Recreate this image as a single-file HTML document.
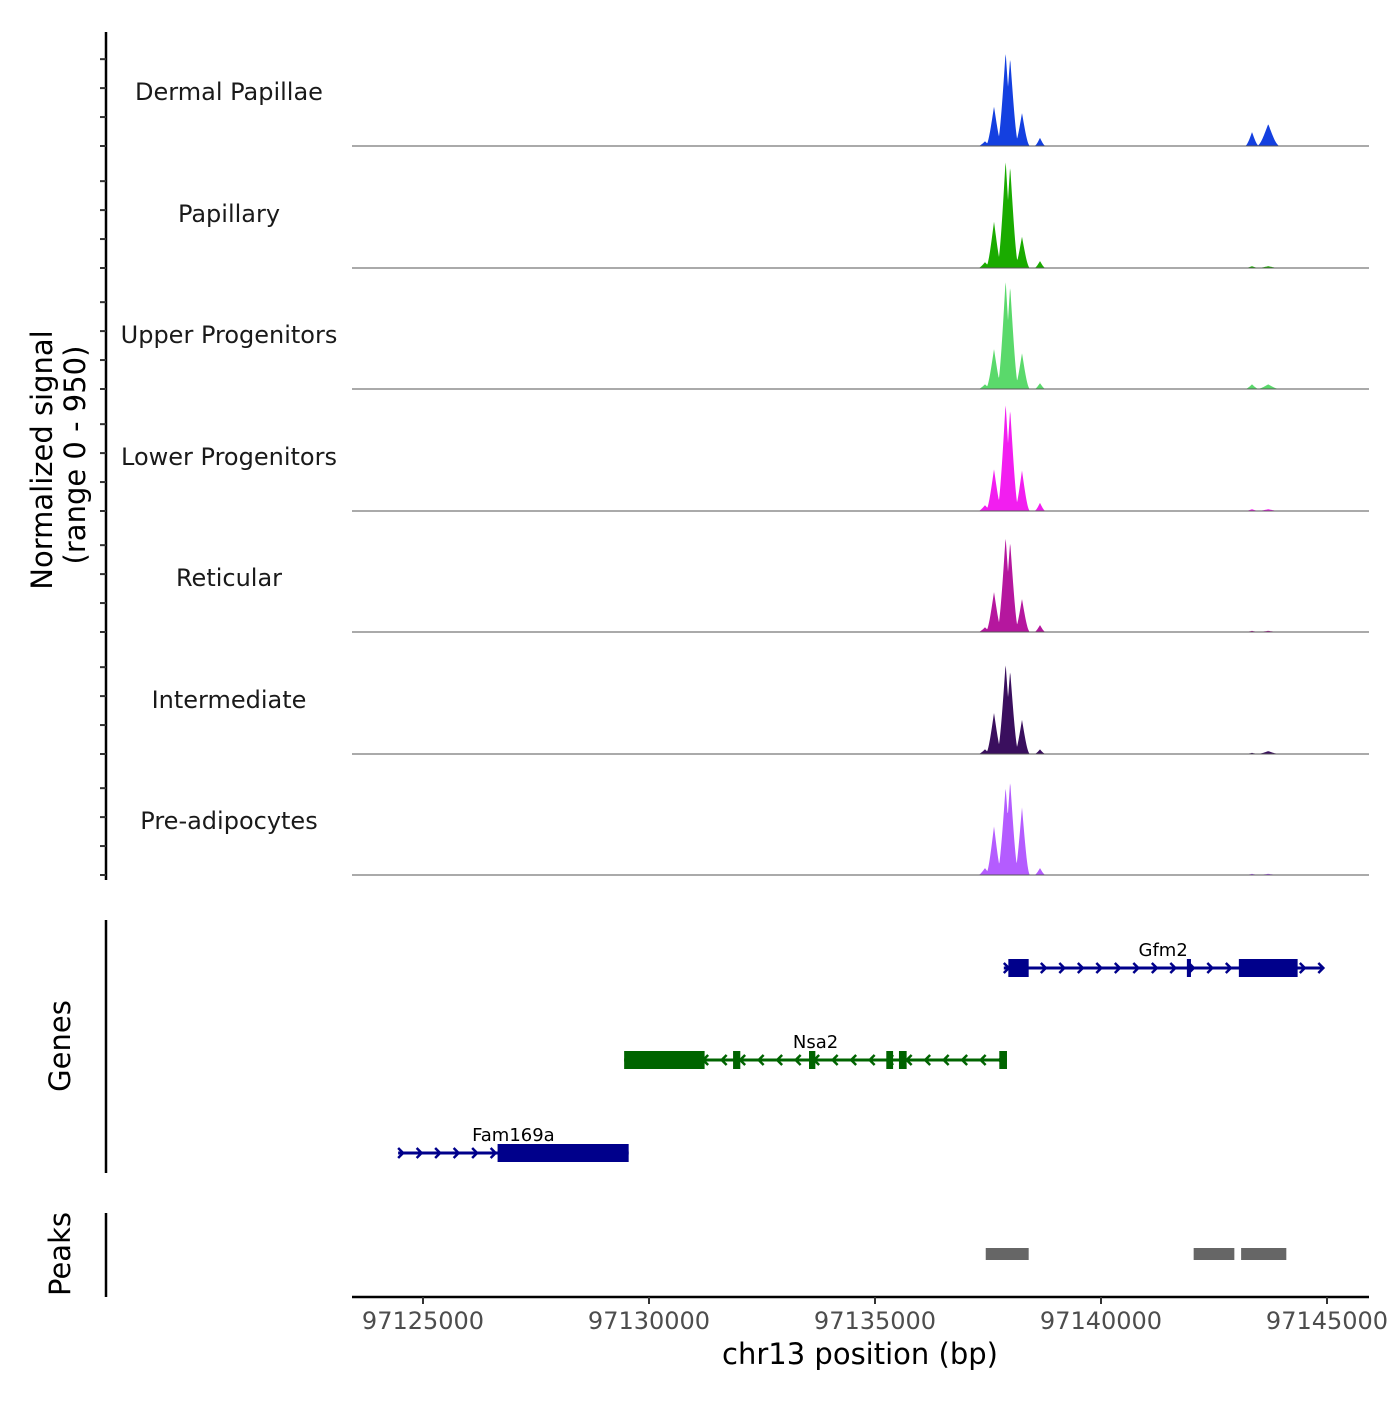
<!DOCTYPE html>
<html><head><meta charset="utf-8"><style>
body{margin:0;background:#fff;}
svg text{font-family:"DejaVu Sans","Liberation Sans",sans-serif;}
</style></head><body>
<svg id="chart" width="1400" height="1400" xmlns="http://www.w3.org/2000/svg">
<g id="tracks"></g>
<g id="genes"></g>
<g id="peaksg"></g>
<g id="axes"></g>
</svg>
<script>
const trackNames=["Dermal Papillae","Papillary","Upper Progenitors","Lower Progenitors","Reticular","Intermediate","Pre-adipocytes"];
const trackColors=["#1440e0","#1aab00","#5ad96b","#f21ef0","#b5179e","#3a0f5e","#b45cff"];
const peakCenters=[97137434,97137633,97137890,97137990,97138252,97138650,97143341,97143700];
const peakWidths=[160,190,200,200,180,130,160,260];
const hDP=[40,340,810,760,285,70,120,190];
const hPap=[50,400,930,880,270,60,15,15];
const hUpp=[40,345,940,890,310,50,40,40];
const hLow=[50,360,930,880,350,70,15,15];
const hRet=[40,345,820,780,285,60,10,10];
const hInt=[40,355,780,720,295,40,10,25];
const hPre=[60,420,760,810,585,60,10,10];
const trackHeights=[hDP,hPap,hUpp,hLow,hRet,hInt,hPre];
const yTicks=[0,250,500,750];
const xTicks=[97125000,97130000,97135000,97140000,97145000];
const genes=[
 {name:"Gfm2",start:97137850,end:97144900,strand:1,row:0,color:"#00008b",exons:[[97137950,97138400],[97141900,97141990],[97143050,97144350]]},
 {name:"Nsa2",start:97129450,end:97137920,strand:-1,row:1,color:"#006400",exons:[[97129450,97131230],[97131860,97132020],[97133540,97133680],[97135250,97135400],[97135530,97135700],[97137750,97137920]]},
 {name:"Fam169a",start:97124450,end:97129550,strand:1,row:2,color:"#00008b",exons:[[97126650,97129550]]}
];
const peakRegions=[[97137450,97138400],[97142050,97142950],[97143100,97144100]];

const NS="http://www.w3.org/2000/svg";
const X0=352,X1=1369;
function xs(p){return 423+(p-97125000)*0.0452;}
const baselines=[146,268,389,511,632,754,875];
const ySc=110/950;
function el(tag,attrs,parent){const e=document.createElementNS(NS,tag);for(const k in attrs)e.setAttribute(k,attrs[k]);parent.appendChild(e);return e;}
function txt(parent,x,y,s,size,fill,anchor,extra){const t=el("text",Object.assign({x:x,y:y,"font-size":size,fill:fill,"text-anchor":anchor||"middle"},extra||{}),parent);t.textContent=s;return t;}

const tg=document.getElementById("tracks");
trackNames.forEach((nm,i)=>{
 const g=el("g",{},tg);
 
 
 const b=baselines[i];
 const hs=trackHeights[i];
 let d="M"+X0+","+b;
 const pts=[];
 for(let px=X0;px<=X1;px+=0.5){
  const bp=97125000+(px-423)/0.0452;
  let v=0;
  peakCenters.forEach((c,k)=>{const w=peakWidths[k];const dd=Math.abs(bp-c);if(dd<w){const f=1-dd/w;v=Math.max(v,hs[k]*f*f*(1.6-0.6*f));}});
  pts.push(px+","+(b-v*ySc).toFixed(1));
 }
 d+=" L"+pts.join(" L")+" L"+X1+","+b+" Z";
 const p=el("path",{d:d,fill:trackColors[i]},g);
 
 
 const l=el("line",{x1:X0,x2:X1,y1:b,y2:b,stroke:"#555","stroke-width":1},g);
 
 
 const t=txt(g,229,b-46,nm,24,"#1a1a1a");
 
 
});

const gg=document.getElementById("genes");
const rowY=[968,1060,1153];
genes.forEach(gn=>{
 const g=el("g",{},gg);
 
 
 const y=rowY[gn.row];
 const x1=xs(gn.start),x2=xs(gn.end);
 el("line",{x1:x1,x2:x2,y1:y,y2:y,stroke:gn.color,"stroke-width":3},g);
 for(let x=x1+5;x<x2+4;x+=18.5){
  const s=gn.strand*5;
  el("polyline",{points:(x-s)+","+(y-5)+" "+x+","+y+" "+(x-s)+","+(y+5),fill:"none",stroke:gn.color,"stroke-width":2.5},g);
 }
 gn.exons.forEach(e=>{el("rect",{x:xs(e[0]),y:y-9,width:Math.max(3,xs(e[1])-xs(e[0])),height:18,fill:gn.color},g);});
 const t=txt(g,(x1+x2)/2,y-12,gn.name,18,"#000");
 
 
});

const pg=document.getElementById("peaksg");
peakRegions.forEach(r=>{
 const rc=el("rect",{x:xs(r[0]),y:1248,width:xs(r[1])-xs(r[0]),height:12,fill:"#666"},pg);
 
 
});

const ag=document.getElementById("axes");
el("line",{x1:106,x2:106,y1:32,y2:880,stroke:"#000","stroke-width":2.5},ag);
baselines.forEach(b=>{yTicks.forEach(v=>{el("line",{x1:100,x2:106,y1:b-v*ySc,y2:b-v*ySc,stroke:"#333","stroke-width":2},ag);});});
el("line",{x1:106,x2:106,y1:920,y2:1173,stroke:"#000","stroke-width":2.5},ag);
el("line",{x1:106,x2:106,y1:1213,y2:1297,stroke:"#000","stroke-width":2.5},ag);
el("line",{x1:X0,x2:X1,y1:1297,y2:1297,stroke:"#000","stroke-width":2.5},ag);
xTicks.forEach(v=>{
 el("line",{x1:xs(v),x2:xs(v),y1:1297,y2:1304,stroke:"#333","stroke-width":2},ag);
 const t=txt(ag,xs(v),1329,String(v),24,"#4d4d4d");
 
 
});
const xt=txt(ag,860,1364,"chr13 position (bp)",29,"#000");


const yt1=txt(ag,0,0,"Normalized signal",29,"#000","middle",{transform:"translate(52,460) rotate(-90)"});


const yt2=txt(ag,0,0,"(range 0 - 950)",29,"#000","middle",{transform:"translate(85,455) rotate(-90)"});


const gt=txt(ag,0,0,"Genes",29,"#000","middle",{transform:"translate(70,1046) rotate(-90)"});


const pt=txt(ag,0,0,"Peaks",29,"#000","middle",{transform:"translate(70,1254) rotate(-90)"});


</script>
</body></html>
